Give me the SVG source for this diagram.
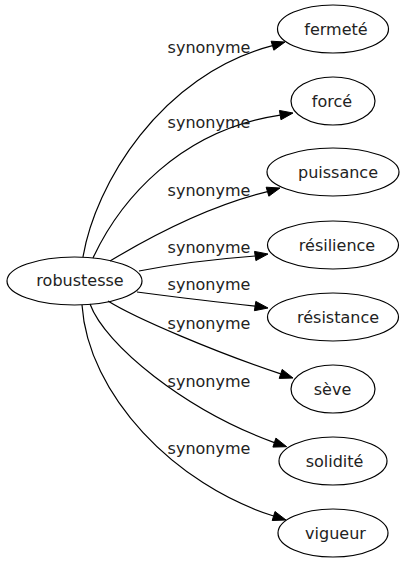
<svg xmlns="http://www.w3.org/2000/svg" width="405" height="563" viewBox="0 0 405 563">
<style>
text{font-family:"DejaVu Sans","Liberation Sans",sans-serif;font-size:16px;fill:#222;text-anchor:middle}
.node ellipse{fill:none;stroke:#000;stroke-width:1.2}
.edge path{fill:none;stroke:#000;stroke-width:1.2}
.edge polygon{fill:#000;stroke:#000;stroke-width:1}
</style>
<rect width="405" height="563" fill="#fff"/>
<g id="edges">
<g class="edge" id="e1"><path d="M83,257 C95,185 160,75 272.5,45.7"/><polygon points="285,42 273.85,50.2 271.15,41.2"/><text x="209" y="53">synonyme</text></g>
<g class="edge" id="e2"><path d="M93,258 C120,200 180,130 280.2,115.1"/><polygon points="293,113 280.95,119.74 279.45,110.46"/><text x="209" y="128">synonyme</text></g>
<g class="edge" id="e3"><path d="M110,261 C135,246 200,208 267.5,191.7"/><polygon points="280,188 268.85,196.2 266.15,187.2"/><text x="209" y="196">synonyme</text></g>
<g class="edge" id="e4"><path d="M139,271 C175,264 215,259 255.2,256"/><polygon points="268,254 255.9,260.6 254.5,251.4"/><text x="209" y="253">synonyme</text></g>
<g class="edge" id="e5"><path d="M137,292 C175,297 215,302 255.1,306.1"/><polygon points="268,308 254.4,310.7 255.8,301.4"/><text x="209" y="290">synonyme</text></g>
<g class="edge" id="e6"><path d="M108,301 C135,318 215,352 280.7,373.9"/><polygon points="293,378 279.2,378.4 282.2,369.4"/><text x="209" y="329">synonyme</text></g>
<g class="edge" id="e7"><path d="M90,304 C105,345 185,410 274.4,442.6"/><polygon points="286.7,446.7 272.9,447.1 275.9,438.1"/><text x="209" y="387">synonyme</text></g>
<g class="edge" id="e8"><path d="M82,305 C88,395 175,485 273.6,516"/><polygon points="286,520 272.2,520.5 275,511.5"/><text x="209" y="454">synonyme</text></g>
</g>
<g class="node" id="robustesse"><ellipse cx="74.5" cy="281" rx="67.5" ry="24"/><text x="80" y="286">robustesse</text></g>
<g class="node" id="fermete"><ellipse cx="333" cy="29" rx="55.5" ry="24"/><text x="336" y="34.5">fermeté</text></g>
<g class="node" id="force"><ellipse cx="333" cy="101" rx="42" ry="24"/><text x="332" y="106.5">forcé</text></g>
<g class="node" id="puissance"><ellipse cx="333" cy="172" rx="66" ry="24"/><text x="338" y="177.5">puissance</text></g>
<g class="node" id="resilience"><ellipse cx="333" cy="245" rx="65.5" ry="24"/><text x="337" y="250.5">résilience</text></g>
<g class="node" id="resistance"><ellipse cx="333" cy="317" rx="65.5" ry="24"/><text x="338" y="322.5">résistance</text></g>
<g class="node" id="seve"><ellipse cx="333" cy="389" rx="42" ry="24"/><text x="332.5" y="394.5">sève</text></g>
<g class="node" id="solidite"><ellipse cx="333" cy="461" rx="54" ry="24"/><text x="334.5" y="466.5">solidité</text></g>
<g class="node" id="vigueur"><ellipse cx="333" cy="533" rx="55" ry="24"/><text x="335.5" y="538.5">vigueur</text></g>
</svg>
